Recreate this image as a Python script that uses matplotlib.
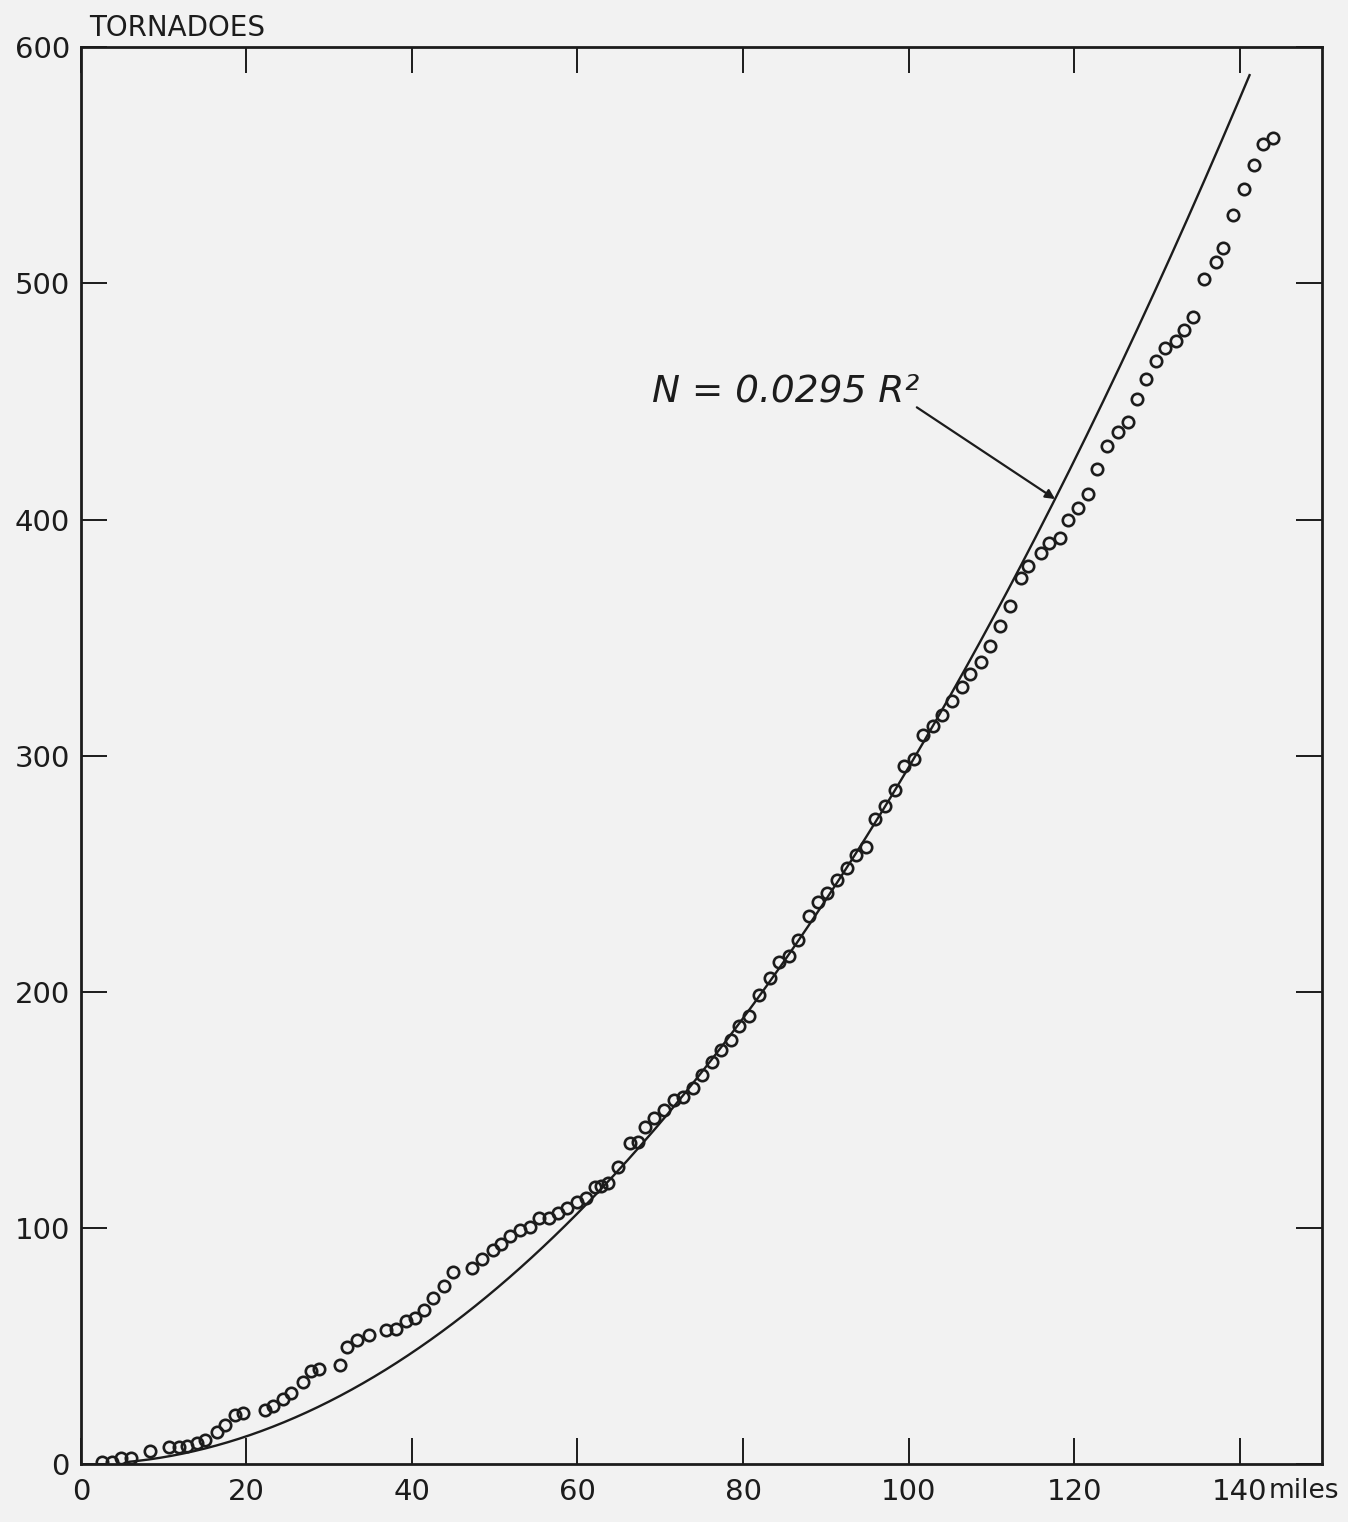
import numpy as np
import matplotlib
matplotlib.use("Agg")
import matplotlib.pyplot as plt

radius = [2.5, 3.7, 4.9, 6.1, 8.3, 10.7, 11.8, 12.8, 14.0, 15.0,
          16.4, 17.4, 18.6, 19.6, 22.2, 23.2, 24.4, 25.4, 26.8, 27.8,
          28.8, 31.3, 32.2, 33.4, 34.8, 36.9, 38.1, 39.3, 40.4, 41.4,
          42.6, 43.9, 45.0, 47.3, 48.5, 49.8, 50.7, 51.9, 53.1, 54.3,
          55.4, 56.5, 57.7, 58.7, 59.9, 61.0, 62.1, 62.9, 63.7, 64.9,
          66.3, 67.3, 68.1, 69.3, 70.5, 71.7, 72.7, 73.9, 75.1, 76.3,
          77.3, 78.5, 79.5, 80.7, 81.9, 83.2, 84.4, 85.6, 86.6, 88.0,
          89.0, 90.2, 91.4, 92.6, 93.6, 94.8, 96.0, 97.2, 98.4, 99.4,
          100.6, 101.7, 102.9, 104.0, 105.3, 106.4, 107.4, 108.7, 109.8, 111.0,
          112.2, 113.6, 114.4, 116.0, 117.0, 118.3, 119.3, 120.5, 121.7, 122.8,
          124.0, 125.3, 126.5, 127.6, 128.7, 129.9, 131.0, 132.3, 133.3, 134.4,
          135.7, 137.1, 138.0, 139.2, 140.5, 141.7, 142.8, 144.0]
tornadoes = [1.0, 1.0, 2.5, 2.5, 5.6, 7.3, 7.3, 7.6, 8.8, 10.2,
             13.7, 16.5, 20.8, 21.7, 22.9, 24.6, 27.8, 30.0, 34.9, 39.3,
             40.3, 41.9, 49.4, 52.4, 54.5, 57.0, 57.3, 60.5, 61.7, 65.3,
             70.2, 75.4, 81.5, 82.9, 86.7, 90.7, 93.2, 96.6, 99.2, 100.6,
             104.1, 104.1, 106.2, 108.3, 111.1, 112.6, 117.2, 117.8, 119.2, 126.0,
             135.9, 136.6, 142.9, 146.5, 150.0, 154.2, 155.6, 159.2, 164.8, 170.5,
             175.4, 179.7, 185.6, 189.8, 198.7, 205.8, 212.8, 215.0, 221.8, 232.2,
             238.0, 241.8, 247.5, 252.4, 258.1, 261.3, 273.2, 278.8, 285.6, 295.8,
             298.6, 308.9, 312.7, 317.4, 323.0, 329.1, 334.7, 339.5, 346.6, 354.8,
             363.3, 375.3, 380.2, 385.9, 390.1, 392.2, 400.0, 405.0, 411.0, 421.5,
             431.0, 437.0, 441.2, 451.1, 459.6, 467.1, 472.8, 475.5, 480.3, 485.9,
             502.0, 509.0, 515.1, 528.9, 539.8, 550.3, 558.8, 561.6]

# fitted curve N = 0.0295 R^2
coef = 0.0295
fit_start = 5.5
fit_end = 141.2

x_ticks = [0, 20, 40, 60, 80, 100, 120, 140]
y_ticks = [0, 100, 200, 300, 400, 500, 600]

ink = "#1c1c1c"
paper = "#f2f2f2"

fig = plt.figure(figsize=(13.48, 15.22), dpi=100, facecolor=paper)
ax = fig.add_axes([0.060, 0.038, 0.921, 0.931], facecolor=paper)

# data points (open circles)
ax.plot(radius, tornadoes, linestyle="none", marker="o", markersize=8.2,
        markerfacecolor="none", markeredgecolor=ink, markeredgewidth=1.9)

# fitted curve
r = np.linspace(fit_start, fit_end, 400)
ax.plot(r, coef * r ** 2, color=ink, linewidth=1.7)

ax.set_xlim(0, 150)
ax.set_ylim(0, 600)

ax.set_xticks(x_ticks)
ax.set_yticks(y_ticks)
ax.set_xticklabels([str(t) for t in x_ticks])
ax.set_yticklabels([str(t) for t in y_ticks])

for s in ax.spines.values():
    s.set_linewidth(2.0)
    s.set_color(ink)

ax.tick_params(axis="both", direction="in", length=19, width=1.4, color=ink,
               labelsize=21, labelcolor=ink, top=True, right=True)
ax.tick_params(axis="x", pad=10)
ax.tick_params(axis="y", pad=8)

# the "miles" unit after the last tick label
ax.annotate("miles", xy=(143.5, 0), xycoords="data", xytext=(0, -10),
            textcoords="offset points", ha="left", va="top",
            fontsize=19, color=ink)

# y axis title sits above the top-left corner
ax.text(0.007, 1.004, "TORNADOES", transform=ax.transAxes, ha="left",
        va="bottom", fontsize=20, color=ink)

# equation label
ax.text(69.0, 454, "N = 0.0295 R\u00b2", ha="left", va="center",
        fontsize=27, style="italic", color=ink)

# pointer from the label to the curve
ax.annotate("", xy=(117.7, coef * 117.7 ** 2), xytext=(101.0, 447.5),
            arrowprops=dict(arrowstyle="-|>", color=ink, lw=1.6,
                            shrinkA=0, shrinkB=0, mutation_scale=14))

fig.savefig("out.png", dpi=100, facecolor=paper)
